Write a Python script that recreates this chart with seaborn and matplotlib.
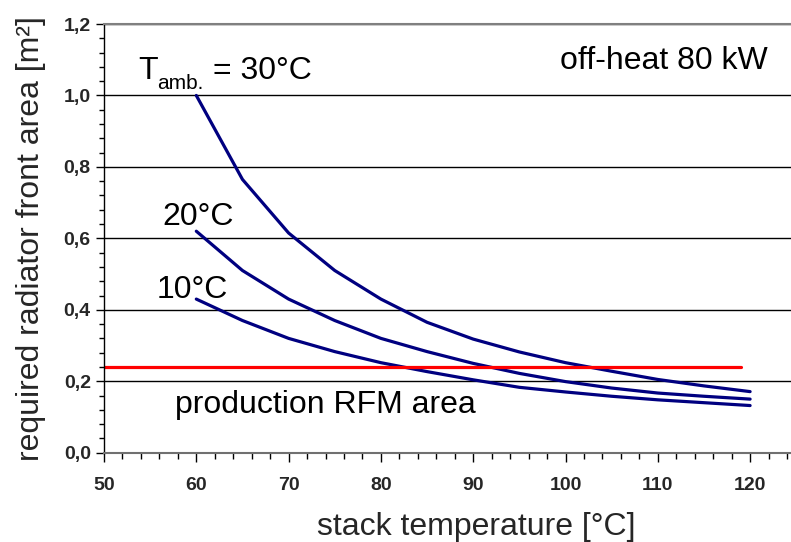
import matplotlib
matplotlib.use("Agg")
import matplotlib.pyplot as plt
from matplotlib.ticker import MultipleLocator, FixedLocator, FuncFormatter
import pandas as pd
import seaborn as sns

# Stack temperature [°C] and required radiator front area [m²] per ambient temperature
stack_temp = [60, 65, 70, 75, 80, 85, 90, 95, 100, 105, 110, 115, 120]
area_30C = [1.00, 0.765, 0.615, 0.51, 0.43, 0.365, 0.318, 0.282, 0.252, 0.228, 0.205, 0.187, 0.171]
area_20C = [0.62, 0.51, 0.43, 0.37, 0.32, 0.283, 0.250, 0.222, 0.199, 0.181, 0.167, 0.158, 0.150]
area_10C = [0.43, 0.37, 0.32, 0.283, 0.252, 0.227, 0.204, 0.183, 0.170, 0.158, 0.148, 0.140, 0.132]
ambient = ["30°C", "20°C", "10°C"]

# Front area of the production radiator (RFM)
rfm_temp = [50, 119]
rfm_area = [0.24, 0.24]

x_ticks = [50, 60, 70, 80, 90, 100, 110, 120]
y_ticks = [0.0, 0.2, 0.4, 0.6, 0.8, 1.0, 1.2]

sns.set_style("ticks")
plt.rcParams["font.family"] = ["Liberation Sans", "DejaVu Sans"]

curves = pd.DataFrame({
    "stack": stack_temp * 3,
    "area": area_30C + area_20C + area_10C,
    "tamb": [ambient[0]] * len(stack_temp) + [ambient[1]] * len(stack_temp)
            + [ambient[2]] * len(stack_temp),
})
rfm = pd.DataFrame({"stack": rfm_temp, "area": rfm_area})

W, H = 791, 542
fig = plt.figure(figsize=(W / 100, H / 100), dpi=100)
left_px, right_px, top_px, bottom_px = 104, 791, 24, 452.7
ax = fig.add_axes([left_px / W, 1 - bottom_px / H,
                   (right_px - left_px) / W, (bottom_px - top_px) / H])

navy = "#000080"
sns.lineplot(data=curves, x="stack", y="area", hue="tamb", hue_order=ambient,
             palette=[navy] * 3, linewidth=2.3, legend=False, ax=ax,
             estimator=None, sort=True)
sns.lineplot(data=rfm, x="stack", y="area", color="#ff0000", linewidth=2.3,
             ax=ax, estimator=None)

ax.set_xlim(50, 50 + (right_px - left_px) / 9.23)
ax.set_ylim(0, 1.2)

ax.xaxis.set_major_locator(FixedLocator(x_ticks))
ax.xaxis.set_minor_locator(MultipleLocator(2))
ax.yaxis.set_major_locator(FixedLocator(y_ticks))
ax.yaxis.set_minor_locator(MultipleLocator(0.04))
ax.yaxis.set_major_formatter(FuncFormatter(lambda v, _: f"{v:.1f}".replace(".", ",")))

ax.yaxis.grid(True, which="major", color="#000000", linewidth=1.0)
ax.xaxis.grid(False)
ax.set_axisbelow(True)

ax.spines["right"].set_visible(False)
ax.spines["top"].set_color("#808080")
ax.spines["top"].set_linewidth(1.5)
ax.spines["bottom"].set_color("#707070")
ax.spines["bottom"].set_linewidth(1.5)
ax.spines["left"].set_color("#000000")
ax.spines["left"].set_linewidth(1.0)

ax.tick_params(axis="x", which="major", direction="out", length=6.5, width=1,
               color="black", pad=11, labelsize=14)
ax.tick_params(axis="x", which="minor", direction="out", length=4.5, width=1,
               color="black")
ax.tick_params(axis="y", which="major", direction="out", length=5.5, width=1,
               color="black", pad=4, labelsize=14)
ax.tick_params(axis="y", which="minor", direction="out", length=3.5, width=1,
               color="black")
for lbl in ax.get_xticklabels() + ax.get_yticklabels():
    lbl.set_fontweight("bold")

ax.set_xlabel("stack temperature [°C]", fontsize=23)
ax.xaxis.label.set_va("baseline")
ax.xaxis.set_label_coords((476.5 - left_px) / (right_px - left_px),
                          (bottom_px - 535) / (bottom_px - top_px))
ax.set_ylabel("required radiator front area [m²]", fontsize=23)
ax.yaxis.label.set_va("center")
ax.yaxis.set_label_coords((31 - left_px) / (right_px - left_px), 0.5)

txt = dict(fontsize=23, ha="left", va="baseline", color="black")
ax.text(53.68, 1.045, "T", **txt)
ax.text(55.74, 1.017, "amb.", fontsize=15, ha="left", va="baseline", color="black")
ax.text(61.8, 1.045, "= 30°C", **txt)
ax.text(56.3, 0.638, "20°C", **txt)
ax.text(55.7, 0.434, "10°C", **txt)
ax.text(57.7, 0.111, "production RFM area", **txt)
ax.text(99.4, 1.073, "off-heat 80 kW", **txt)

fig.savefig("out.png", dpi=100, facecolor="white")
